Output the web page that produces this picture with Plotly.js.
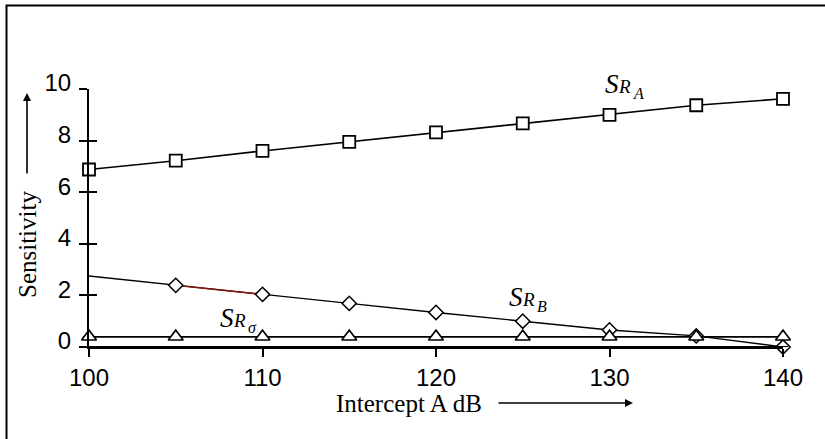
<!DOCTYPE html>
<html>
<head>
<meta charset="utf-8">
<script src="https://cdn.plot.ly/plotly-3.0.1.min.js"></script>
<style>html,body{margin:0;padding:0;background:#fff;}#chart{width:825px;height:439px;}</style>
</head>
<body>
<div id="chart"></div>
<script>
// Data
var interceptA = [100, 105, 110, 115, 120, 125, 130, 135, 140];
var SR_A = [6.88, 7.22, 7.60, 7.95, 8.32, 8.67, 9.00, 9.37, 9.62];
var SR_B = [2.75, 2.39, 2.04, 1.69, 1.34, 1.00, 0.66, 0.43, 0.00];
var SR_sigma = [0.40, 0.40, 0.40, 0.40, 0.40, 0.40, 0.40, 0.40, 0.40];
var xTicks = [100, 110, 120, 130, 140];
var yTicks = [0, 2, 4, 6, 8, 10];
var seriesNames = ['A', 'B', 'σ'];

var serif = 'Liberation Serif, Times New Roman, serif';
var sans = 'Liberation Sans, Arial, sans-serif';

var traces = [
  {
    x: interceptA, y: SR_A, type: 'scatter', mode: 'lines+markers',
    line: {color: '#000', width: 1.6},
    marker: {symbol: 'square', size: 12, color: '#fff', line: {color: '#000', width: 1.8}},
    cliponaxis: false, hoverinfo: 'skip'
  },
  {
    x: interceptA, y: SR_B, type: 'scatter', mode: 'lines',
    line: {color: '#000', width: 1.4},
    cliponaxis: false, hoverinfo: 'skip'
  },
  {
    x: interceptA.slice(1, 3), y: SR_B.slice(1, 3), type: 'scatter', mode: 'lines',
    line: {color: '#8b1010', width: 1.4},
    cliponaxis: false, hoverinfo: 'skip'
  },
  {
    x: interceptA.slice(1), y: SR_B.slice(1), type: 'scatter', mode: 'markers',
    marker: {symbol: 'diamond', size: 11, color: '#ffffff', line: {color: '#000', width: 1.5}},
    cliponaxis: false, hoverinfo: 'skip'
  },
  {
    x: interceptA, y: SR_sigma, type: 'scatter', mode: 'lines+markers',
    line: {color: '#000', width: 1.6},
    marker: {symbol: 'triangle-up', size: 13, color: '#fff', line: {color: '#000', width: 1.6}},
    cliponaxis: false, hoverinfo: 'skip'
  },
  {
    x: [interceptA[0]], y: [0], yaxis: 'y2', type: 'scatter', mode: 'markers',
    marker: {size: 0, opacity: 0}, hoverinfo: 'skip', showlegend: false
  }
];

var W = 694, H = 258; // plot area in px
function px(xp) { return (xp - 89) / W; }
function py(yp) { return (347 - yp) / H; }

// series label: big italic S, smaller italic R, subscript
function seriesLabel(sx, sBase, sub) {
  return [
    {xref: 'paper', yref: 'paper', x: px(sx), y: py(sBase - 8), xanchor: 'left', yanchor: 'middle',
     text: '<i>S</i>', showarrow: false, font: {family: serif, size: 27, color: '#000'}},
    {xref: 'paper', yref: 'paper', x: px(sx + 13), y: py(sBase - 6), xanchor: 'left', yanchor: 'middle',
     text: '<i>R</i>', showarrow: false, font: {family: serif, size: 19, color: '#000'}},
    {xref: 'paper', yref: 'paper', x: px(sx + 28), y: py(sBase + 1), xanchor: 'left', yanchor: 'middle',
     text: '<i>' + sub + '</i>', showarrow: false, font: {family: serif, size: 16, color: '#000'}}
  ];
}

var annotations = [
  {xref: 'paper', yref: 'paper', x: px(27), y: py(245), xanchor: 'center', yanchor: 'middle',
   text: 'Sensitivity', textangle: -90,
   showarrow: false, font: {family: serif, size: 25, color: '#000'}},
  {xref: 'paper', yref: 'paper', x: px(409), y: py(403), xanchor: 'center', yanchor: 'middle',
   text: 'Intercept A dB',
   showarrow: false, font: {family: serif, size: 25, color: '#000'}},
  {xref: 'paper', yref: 'paper', x: px(27), y: py(93), ax: 0, ay: 82, text: '',
   showarrow: true, arrowhead: 2, arrowsize: 1, arrowwidth: 1.6, arrowcolor: '#000'},
  {xref: 'paper', yref: 'paper', x: px(633), y: py(403), ax: -136, ay: 0, text: '',
   showarrow: true, arrowhead: 2, arrowsize: 1, arrowwidth: 1.6, arrowcolor: '#000'}
]
  .concat(seriesLabel(603, 92, seriesNames[0]))
  .concat(seriesLabel(507, 305, seriesNames[1]))
  .concat(seriesLabel(218, 326, seriesNames[2]));

var layout = {
  width: 825, height: 439,
  margin: {l: 89, r: 42, t: 89, b: 92},
  paper_bgcolor: '#fff', plot_bgcolor: 'rgba(0,0,0,0)',
  showlegend: false,
  xaxis: {
    range: [100, 140], tickvals: xTicks, ticktext: xTicks.map(String),
    showgrid: false, zeroline: false, showline: true, linecolor: '#000', linewidth: 2,
    ticks: 'outside', ticklen: 8, tickwidth: 2, tickcolor: '#000',
    tickfont: {family: sans, size: 24, color: '#000'}
  },
  yaxis: {
    range: [0, 10], tickvals: yTicks, ticktext: yTicks.map(String),
    showgrid: false, zeroline: false, showline: true, linecolor: '#000', linewidth: 2,
    ticks: 'outside', ticklen: 8, tickwidth: 2, tickcolor: '#000',
    ticklabelstandoff: 3, ticklabelshift: -6,
    tickfont: {family: sans, size: 24, color: '#000'}
  },
  yaxis2: {
    overlaying: 'y', matches: 'y', range: [0, 10], tickvals: yTicks, anchor: 'x', side: 'left',
    showgrid: false, zeroline: false, showline: false, showticklabels: false,
    ticks: 'inside', ticklen: 8, tickwidth: 2, tickcolor: '#000'
  },
  shapes: [
    {type: 'rect', xref: 'paper', yref: 'paper', x0: px(6.5), x1: px(835), y0: py(445), y1: py(5.5),
     line: {color: '#000', width: 2}, fillcolor: 'rgba(0,0,0,0)'},
    {type: 'line', xref: 'paper', yref: 'y', x0: px(83), x1: px(788), y0: 0, y1: 0,
     line: {color: '#000', width: 2}},
    {type: 'line', xref: 'paper', yref: 'y', x0: px(83), x1: px(788), y0: SR_sigma[0], y1: SR_sigma[0],
     line: {color: '#000', width: 1.6}, layer: 'below'}
  ],
  annotations: annotations
};

Plotly.newPlot('chart', traces, layout, {staticPlot: true, displayModeBar: false});
</script>
</body>
</html>
